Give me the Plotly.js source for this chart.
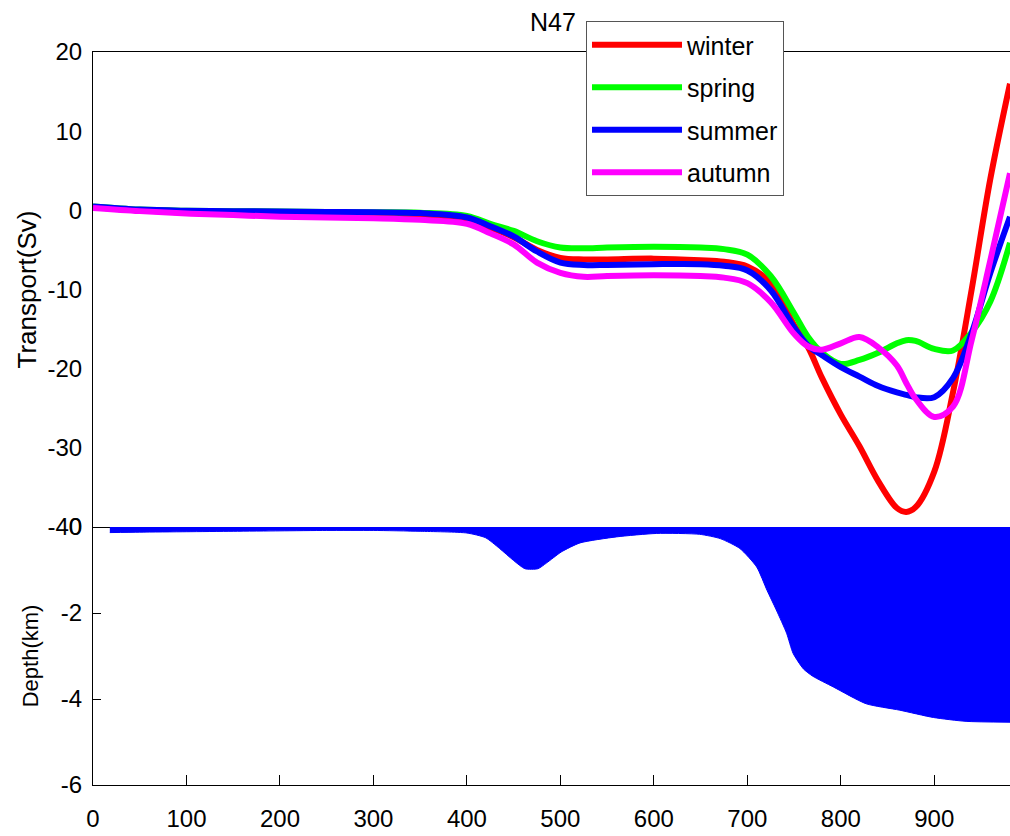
<!DOCTYPE html>
<html>
<head>
<meta charset="utf-8">
<script src="https://cdn.plot.ly/plotly-3.0.1.min.js"></script>
<style>
  html, body { margin: 0; padding: 0; background: #fff; }
  #chart { width: 1010px; height: 836px; }
</style>
</head>
<body>
<div id="chart"></div>
<script>
// Section N47: seasonal cumulative transport (Sv) along the section distance (km)
const distance = [0, 50, 100, 150, 200, 250, 300, 350, 400, 425, 450, 475, 500, 525, 550, 600, 650, 675, 700, 725, 750, 765, 780, 800, 820, 840, 860, 870, 880, 900, 920, 940, 960, 981];

const winter = [0.4, 0.0, -0.3, -0.5, -0.6, -0.7, -0.8, -1.0, -1.3, -2.2, -3.4, -5.0, -6.0, -6.2, -6.2, -6.1, -6.3, -6.5, -7.1, -9.2, -14.5, -17.3, -21.2, -25.8, -29.8, -34.2, -37.6, -38.1, -37.5, -33.0, -23.0, -10.0, 4.0, 16.0];
const spring = [0.5, 0.1, -0.05, -0.1, -0.15, -0.2, -0.25, -0.3, -0.7, -1.7, -2.6, -3.9, -4.7, -4.8, -4.7, -4.6, -4.7, -4.9, -5.6, -8.3, -13.0, -16.0, -18.0, -19.4, -18.9, -18.0, -16.8, -16.4, -16.5, -17.5, -17.7, -15.4, -11.5, -4.1];
const summer = [0.5, 0.1, -0.05, -0.1, -0.15, -0.2, -0.25, -0.35, -0.9, -2.0, -3.3, -5.2, -6.6, -6.9, -6.9, -6.8, -6.8, -7.0, -7.6, -10.1, -14.8, -17.1, -18.3, -19.8, -21.0, -22.2, -23.0, -23.3, -23.6, -23.6, -21.2, -15.5, -7.9, -0.8];
const autumn = [0.3, -0.1, -0.4, -0.6, -0.8, -0.9, -1.0, -1.2, -1.7, -2.9, -4.3, -6.6, -7.9, -8.4, -8.3, -8.2, -8.3, -8.5, -9.2, -11.6, -15.6, -17.2, -17.6, -16.8, -16.0, -17.3, -19.6, -21.8, -23.8, -26.1, -24.8, -16.4, -6.3, 4.7];

// Bottom topography along the same section (km)
const depthDistance = [18, 50, 100, 150, 200, 250, 300, 350, 400, 420, 435, 450, 462, 476, 485, 501, 521, 560, 603, 649, 671, 692, 710, 721, 731, 742, 749, 760, 770, 792, 827, 863, 899, 934, 981];
const depth = [-0.13, -0.12, -0.11, -0.10, -0.09, -0.08, -0.08, -0.10, -0.14, -0.25, -0.50, -0.78, -0.97, -0.97, -0.84, -0.58, -0.37, -0.23, -0.15, -0.17, -0.27, -0.50, -0.93, -1.47, -1.93, -2.47, -2.94, -3.30, -3.47, -3.72, -4.11, -4.26, -4.43, -4.52, -4.54];

const seasonNames = ['winter', 'spring', 'summer', 'autumn'];
const seasonColors = ['#ff0000', '#00ff00', '#0000ff', '#ff00ff'];
const seasonValues = [winter, spring, summer, autumn];

const transportTicks = [-40, -30, -20, -10, 0, 10, 20];
const transportTickText = ['-40', '-30', '-20', '-10', '0', '10', '20'];
const depthTicks = [-6, -4, -2, 0];
const depthTickText = ['-6', '-4', '-2', '0'];
const distanceTicks = [0, 100, 200, 300, 400, 500, 600, 700, 800, 900];
const distanceTickText = ['0', '100', '200', '300', '400', '500', '600', '700', '800', '900'];

const FONT = 'Liberation Sans, Arial, Helvetica, sans-serif';
const TICK_FONT = { family: FONT, size: 24, color: '#000' };

const traces = seasonNames.map((name, i) => ({
  type: 'scatter',
  mode: 'lines',
  name: name,
  legendgroup: name,
  x: distance,
  y: seasonValues[i],
  xaxis: 'x',
  yaxis: 'y',
  line: { color: seasonColors[i], width: 6, shape: 'spline', smoothing: 1 }
}));

traces.push({
  type: 'scatter',
  mode: 'lines',
  name: 'depth',
  showlegend: false,
  x: depthDistance,
  y: depth,
  xaxis: 'x2',
  yaxis: 'y2',
  fill: 'tozeroy',
  fillcolor: '#0000ff',
  line: { color: '#0000ff', width: 1, shape: 'spline', smoothing: 0.6 }
});

const split = 258 / 733;

const layout = {
  width: 1010,
  height: 836,
  margin: { l: 93, r: 0, t: 52, b: 51 },
  paper_bgcolor: '#ffffff',
  plot_bgcolor: '#ffffff',
  font: { family: FONT, size: 24, color: '#000' },
  title: {
    text: 'N47',
    font: { family: FONT, size: 25, color: '#000' },
    xref: 'container', yref: 'container',
    x: 553 / 1010, xanchor: 'center',
    y: 1 - 22.5 / 836, yanchor: 'middle'
  },
  showlegend: true,
  legend: {
    x: (586 - 93) / 917, xanchor: 'left',
    y: (785 - 21) / 733, yanchor: 'top',
    bgcolor: '#ffffff',
    bordercolor: '#555555',
    borderwidth: 1,
    font: { family: FONT, size: 25, color: '#000' },
    itemwidth: 90,
    tracegroupgap: 7
  },
  xaxis: {
    domain: [0, 1],
    range: [0, 981],
    anchor: 'y',
    showticklabels: false,
    ticks: '',
    showgrid: false,
    zeroline: false,
    showline: true,
    mirror: true,
    linecolor: '#000',
    linewidth: 1
  },
  yaxis: {
    domain: [split, 1],
    range: [-40, 20],
    anchor: 'x',
    tickmode: 'array',
    tickvals: transportTicks,
    ticktext: transportTickText,
    tickfont: TICK_FONT,
    ticks: '',
    ticklabelstandoff: 5,
    showgrid: false,
    zeroline: false,
    showline: true,
    linecolor: '#000',
    linewidth: 1,
    title: { text: 'Transport(Sv)', font: { family: FONT, size: 26, color: '#000' }, standoff: 3 }
  },
  xaxis2: {
    domain: [0, 1],
    range: [0, 981],
    anchor: 'y2',
    tickmode: 'array',
    tickvals: distanceTicks,
    ticktext: distanceTickText,
    tickfont: TICK_FONT,
    ticks: 'inside',
    ticklen: 10,
    tickcolor: '#000',
    ticklabelstandoff: 12,
    showgrid: false,
    zeroline: false,
    showline: true,
    linecolor: '#000',
    linewidth: 1
  },
  yaxis2: {
    domain: [0, split],
    range: [-6, 0],
    anchor: 'x2',
    tickmode: 'array',
    tickvals: depthTicks,
    ticktext: depthTickText,
    tickfont: TICK_FONT,
    ticks: 'inside',
    ticklen: 8,
    tickcolor: '#000',
    ticklabelstandoff: 5,
    showgrid: false,
    zeroline: false,
    showline: true,
    linecolor: '#000',
    linewidth: 1,
    title: { text: 'Depth(km)', font: { family: FONT, size: 22, color: '#000' }, standoff: 16 }
  }
};

Plotly.newPlot('chart', traces, layout, { displayModeBar: false, staticPlot: true });
</script>
</body>
</html>
